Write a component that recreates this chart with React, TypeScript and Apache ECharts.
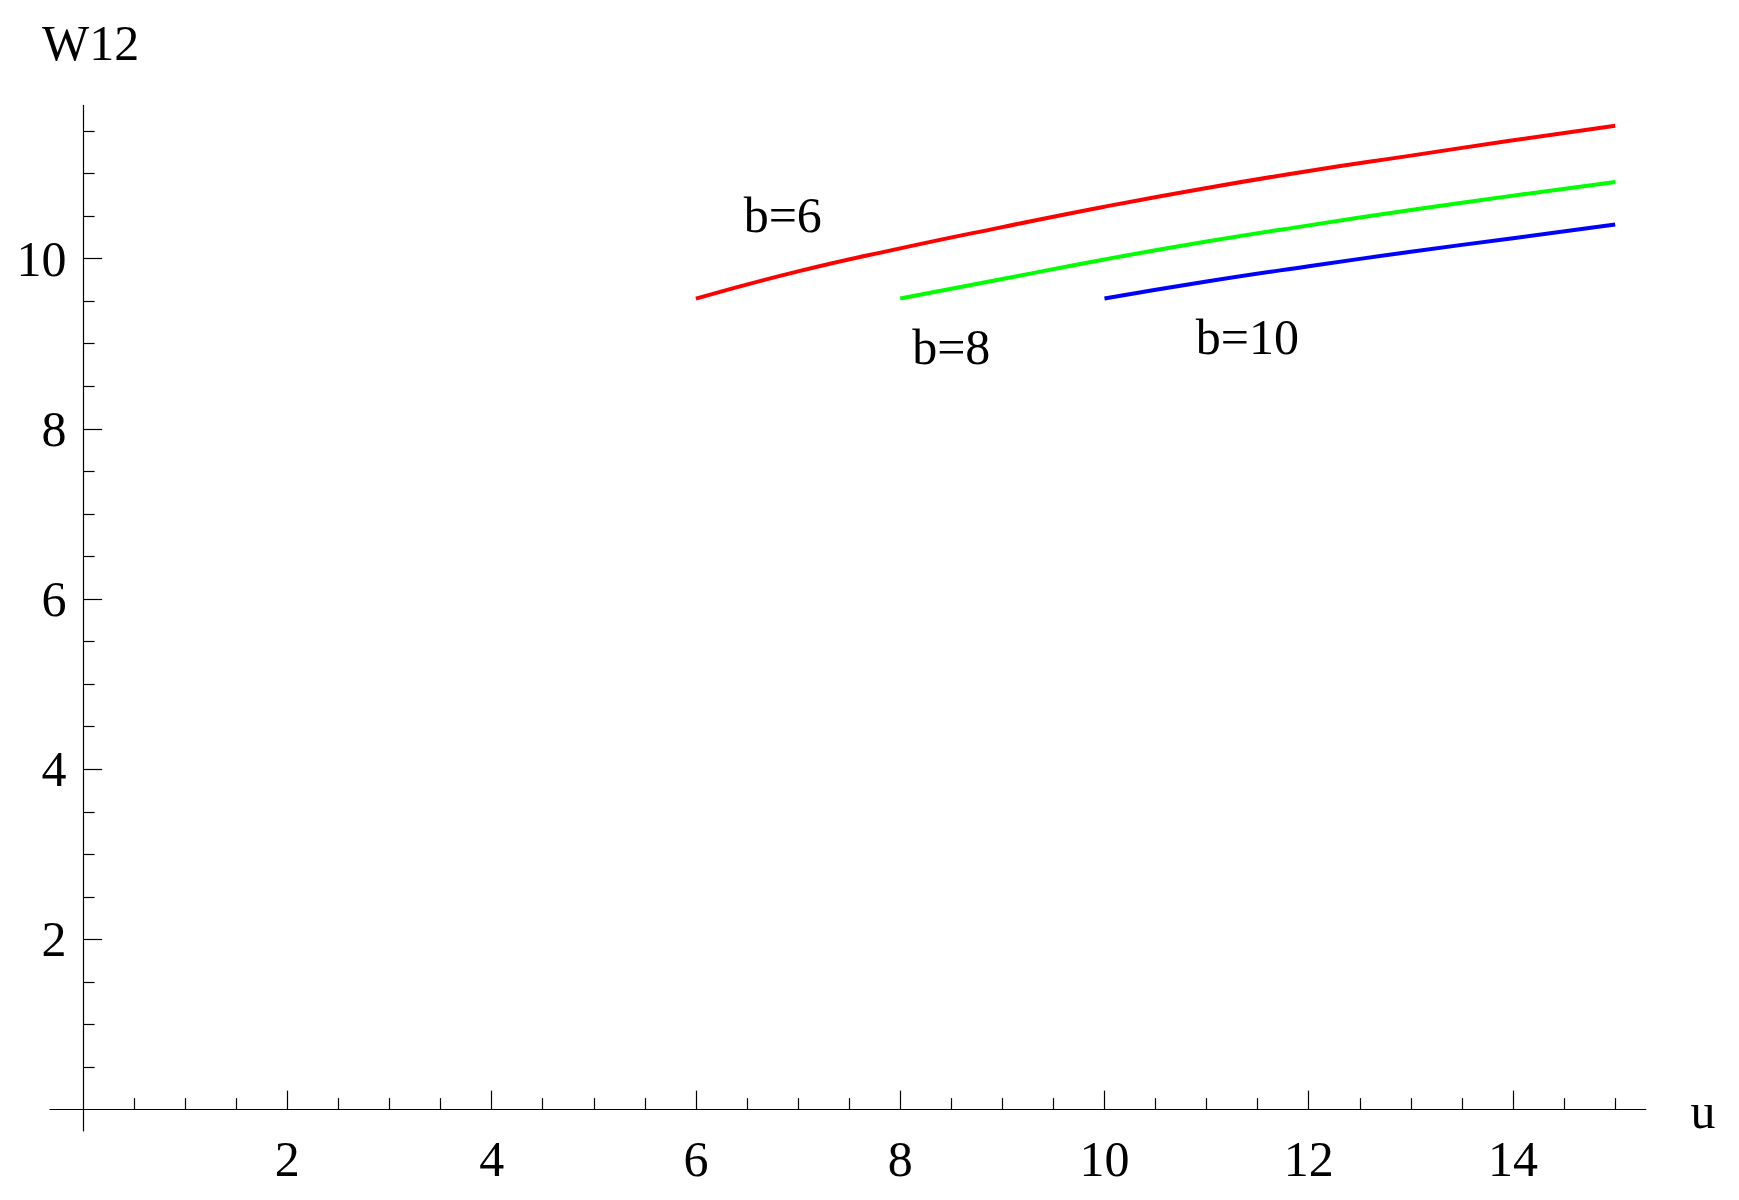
import React, { useEffect, useRef } from "react";
import * as echarts from "echarts";

// Curve data (u -> W12)
const uRed = [6, 7, 8, 9, 10, 11, 12, 13, 14, 15];
const wRed = [9.53, 9.85, 10.12, 10.37, 10.61, 10.83, 11.03, 11.21, 11.39, 11.56];
const uGreen = [8, 9, 10, 11, 12, 13, 14, 15];
const wGreen = [9.53, 9.76, 9.99, 10.2, 10.39, 10.57, 10.74, 10.9];
const uBlue = [10, 11, 12, 13, 14, 15];
const wBlue = [9.53, 9.73, 9.91, 10.08, 10.24, 10.4];

// Curve labels
const labelTexts = ["b=6", "b=8", "b=10"];
const labelU = [6.85, 8.5, 11.4];
const labelW = [10.51, 8.96, 9.08];

// Ticks
const xMajorTicks = [2, 4, 6, 8, 10, 12, 14];
const xMinorTicks = [0.5, 1, 1.5, 2.5, 3, 3.5, 4.5, 5, 5.5, 6.5, 7, 7.5, 8.5, 9, 9.5, 10.5, 11, 11.5, 12.5, 13, 13.5, 14.5, 15];
const yMajorTicks = [2, 4, 6, 8, 10];
const yMinorTicks = [0.5, 1, 1.5, 2.5, 3, 3.5, 4.5, 5, 5.5, 6.5, 7, 7.5, 8.5, 9, 9.5, 10.5, 11, 11.5];

const X_MIN = -0.325;
const X_MAX = 15.3;
const Y_MIN = -0.25;
const Y_MAX = 11.8;

const FONT = "'Liberation Serif', 'Times New Roman', serif";
const FS = 50;

export default function App() {
  const ref = useRef<HTMLDivElement>(null);

  useEffect(() => {
    if (!ref.current) return;
    const chart = echarts.init(ref.current, undefined, { renderer: "svg" });
    const axisLineStyle = { color: "#000", width: 1.2 };

    const mkLine = (us: number[], ws: number[], color: string) => ({
      type: "line",
      xAxisIndex: 0,
      yAxisIndex: 0,
      data: us.map((u, i) => [u, ws[i]]),
      showSymbol: false,
      symbol: "none",
      smooth: 0.5,
      lineStyle: { color, width: 4 },
      silent: true,
    });

    chart.setOption({
      animation: false,
      backgroundColor: "#fff",
      grid: {
        left: 49.9,
        right: 93.2,
        top: 105.4,
        bottom: 69.1,
        containLabel: false,
        outerBoundsMode: "none",
      },
      xAxis: [
        {
          type: "value",
          min: X_MIN,
          max: X_MAX,
          axisLine: { show: true, onZero: true, onZeroAxisIndex: 0, lineStyle: axisLineStyle },
          axisTick: { show: true, inside: true, length: 19, customValues: xMajorTicks, lineStyle: axisLineStyle },
          axisLabel: { show: true, customValues: xMajorTicks, margin: 3, fontSize: FS, color: "#000", fontFamily: FONT },
          splitLine: { show: false },
        },
        {
          type: "value",
          min: X_MIN,
          max: X_MAX,
          position: "bottom",
          axisLine: { show: false, onZero: true, onZeroAxisIndex: 0 },
          axisTick: { show: true, inside: true, length: 11.5, customValues: xMinorTicks, lineStyle: axisLineStyle },
          axisLabel: { show: false },
          splitLine: { show: false },
        },
      ],
      yAxis: [
        {
          type: "value",
          min: Y_MIN,
          max: Y_MAX,
          axisLine: { show: true, onZero: true, onZeroAxisIndex: 0, lineStyle: axisLineStyle },
          axisTick: { show: true, inside: true, length: 19, customValues: yMajorTicks, lineStyle: axisLineStyle },
          axisLabel: { show: true, customValues: yMajorTicks, margin: -16.6, fontSize: FS, color: "#000", fontFamily: FONT },
          splitLine: { show: false },
        },
        {
          type: "value",
          min: Y_MIN,
          max: Y_MAX,
          position: "left",
          axisLine: { show: false, onZero: true, onZeroAxisIndex: 0 },
          axisTick: { show: true, inside: true, length: 11.5, customValues: yMinorTicks, lineStyle: axisLineStyle },
          axisLabel: { show: false },
          splitLine: { show: false },
        },
      ],
      graphic: [
        {
          type: "text",
          x: 42,
          y: 43,
          silent: true,
          style: { text: "W12", fontSize: FS, fontFamily: FONT, fill: "#000", align: "left", verticalAlign: "middle" },
        },
        {
          type: "text",
          x: 1703,
          y: 1111,
          silent: true,
          style: { text: "u", fontSize: FS, fontFamily: FONT, fill: "#000", align: "center", verticalAlign: "middle" },
        },
      ],
      series: [
        mkLine(uRed, wRed, "#ff0000"),
        mkLine(uGreen, wGreen, "#00ff00"),
        mkLine(uBlue, wBlue, "#0000ff"),
        {
          type: "scatter",
          xAxisIndex: 0,
          yAxisIndex: 0,
          symbolSize: 1,
          itemStyle: { color: "rgba(0,0,0,0)", opacity: 1 },
          silent: true,
          data: labelU.map((u, i) => ({
            value: [u, labelW[i]],
            label: {
              show: true,
              position: "inside",
              formatter: labelTexts[i],
              fontSize: FS,
              fontFamily: FONT,
              color: "#000",
              opacity: 1,
              textBorderWidth: 0,
            },
          })),
        },
      ],
    });

    return () => chart.dispose();
  }, []);

  return (
    <div
      ref={ref}
      style={{ position: "fixed", left: 0, top: 0, width: 1739, height: 1200, background: "#fff" }}
    />
  );
}
